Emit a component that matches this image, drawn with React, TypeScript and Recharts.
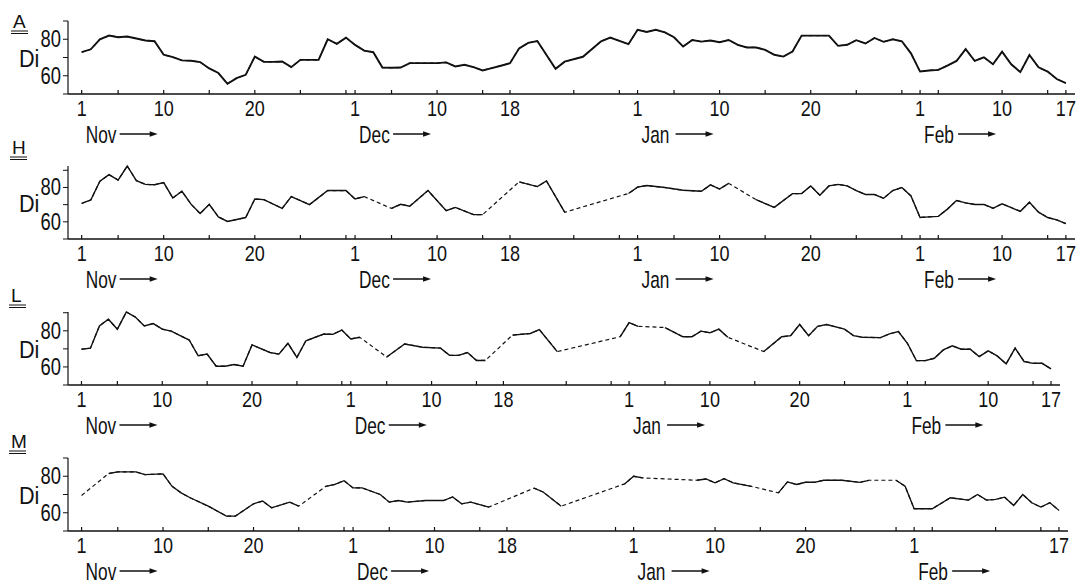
import React from 'react';
import { LineChart, Line, XAxis, YAxis } from 'recharts';

// x = days counted from 1 Nov (Feb 17 = 108), y = Di
const aDays = [0,1,2,3,4,5,6,7,8,9,10,11,12,13,14,15,16,17,18,19,20,21,22,23,24,25,26,27,28,29,30,31,32,33,34,35,36,37,38,39,40,41,42,43,44,45,46,47,48,49,50,52,53,55,57,58,60,61,62,63,64,65,66,67,68,69,70,71,72,73,74,75,76,77,78,79,80,81,82,83,84,85,86,87,88,89,90,91,92,93,94,95,96,97,98,99,100,101,102,103,104,105,106,107,108];
const aDi = [72.9,74.5,80,82,81.1,81.5,80.4,79.3,78.9,71.5,70.2,68.4,68.2,67.5,64,61.5,55.6,58.7,60.5,70.5,67.6,67.6,67.8,64.7,68.7,68.7,68.7,80,77.5,80.9,76.9,73.8,72.9,64.5,64.4,64.5,66.9,66.9,66.9,66.9,67.3,65.1,66,64.7,62.9,64.2,65.5,66.9,75,78,79,63.8,67.7,70.4,78.9,80.9,77.3,85.2,84,85.2,83.8,81.1,76,79.6,78.7,79.3,78.4,79.6,76.9,75.5,75.5,74.2,71.5,70.5,73.3,82,82,82,82,76.4,77,79.5,77.7,80.7,78.6,80,78.9,72.3,62.3,62.9,63.2,65.6,68.1,74.6,68.1,70.1,66.3,73.2,66.3,62,71.4,64.6,62.3,58.2,56];

const hDays = [0,1,2,3,4,5,6,7,8,9,10,11,12,13,14,15,16,18,19,20,22,23,24,25,27,29,30,31,34,35,36,38,40,41,43,44,48,50,51,53,60,61,62,64,66,68,69,70,71,74,76,78,79,80,81,82,83,84,85,86,87,88,89,90,91,92,93,94,95,96,97,98,99,100,101,102,103,104,105,106,107,108];
const hDi = [70.7,72.7,83.6,87.5,84.3,92.5,84,81.8,81.6,82.8,73.9,77.8,70.3,64.8,70.2,62.9,60.2,62.5,73.3,72.9,67.8,74.7,72.4,70,78.2,78.2,73.3,74.7,67.8,70.2,69.1,78.2,66.5,68.4,64.2,64.2,83.3,80.5,83.8,65.6,76.5,80.2,81.1,80,78.4,77.8,81.5,79.1,82.4,72.9,68.4,76.4,76.4,80.9,75.5,80.9,81.8,80.9,78.2,75.9,75.9,73.7,78.2,80,75.1,62.5,62.9,63.2,67.4,72.4,71,70.1,70.1,67.9,70.5,68.3,66.1,71.4,65.6,62.5,61.1,58.9];

const lDays = [0,1,2,3,4,5,6,7,8,9,10,11,12,13,14,15,16,17,18,19,21,22,23,24,25,27,28,29,30,31,34,36,38,40,41,42,43,44,45,48,50,51,53,60,61,62,65,67,68,69,70,71,72,76,78,79,80,81,82,83,85,86,87,89,90,91,92,93,94,95,96,97,98,99,100,101,102,103,104,105,106,107,108];
const lDi = [69.8,70.4,82.7,86.4,80.9,90.4,87.6,82.7,84,80.9,79.8,77.3,74.9,66.2,67.1,60.4,60.4,61.3,60.4,72.2,68,67.1,73.1,65.3,74.5,78.2,78,80.4,75.5,76.4,65.5,72.7,70.9,70.4,66.4,66.4,68,63.6,63.6,77.6,78.5,80.7,68.5,76.7,84.5,82.5,81.8,76.7,76.7,79.8,78.9,80.9,76.4,68.5,76.7,77.3,83.5,77.3,82.5,83.5,80.9,77.3,76.4,76.2,78.3,79.6,73.1,63.5,63.5,64.8,69.4,71.7,69.8,69.8,65.7,68.9,66.1,61.7,70.4,63,62,62,58.9];

const mDays = [0,3,4,6,7,9,10,11,12,14,16,17,19,20,21,23,24,27,28,29,30,31,33,34,35,36,38,40,41,42,43,45,50,51,53,60,61,62,68,69,70,71,72,74,77,78,79,80,81,82,84,86,87,90,91,92,94,96,98,99,100,101,102,103,104,105,106,107,108];
const mDi = [69.5,81.5,82.4,82.4,80.9,81.3,74.5,70.9,68.2,63.6,58.2,58.2,64.9,66.4,62.7,65.8,63.6,74.5,75.5,77.6,73.6,73.6,70,65.8,66.7,65.8,66.7,66.7,68.7,64.9,65.8,63.1,73.5,71.4,63.6,75.8,80,79.1,77.8,78.5,76.4,78.7,76.4,74.5,70.9,76.9,75.5,76.7,76.7,77.8,77.8,76.7,77.8,77.8,74.5,62.2,62.2,68.2,66.9,70,66.9,67.3,68.5,64,70,65.5,63.1,65.5,61.3];

const tickDays = [0,4,9,14,19,24,29,30,34,39,44,47,54,59,61,65,70,75,80,85,90,92,94,101,106,108];
const labelDays = [0,9,19,30,39,47,61,70,80,92,101,108];
const labelText = ['1','10','20','1','10','18','1','10','20','1','10','17'];
const monthDays = [0,30,61,92];
const monthNames = ['Nov','Dec','Jan','Feb'];
const yTicks = [50,60,70,80,90];
const yLabels = [60,80];

const INK = '#111';
const FONT = '"Liberation Sans", Arial, sans-serif';

const panels = [
  { name: 'A', days: aDays, di: aDi, top: 21, right: 14, width: 1.9, letterX: 13, letterY: 28, skip: [] as number[] },
  { name: 'H', days: hDays, di: hDi, top: 166, right: 14, width: 1.4, letterX: 12, letterY: 154, skip: [] as number[] },
  { name: 'L', days: lDays, di: lDi, top: 312, right: 29, width: 1.4, letterX: 11, letterY: 302, skip: [] as number[] },
  { name: 'M', days: mDays, di: mDi, top: 458, right: 21, width: 1.3, letterX: 11, letterY: 448, skip: [101] },
];

// solid only between close days, gaps of 3+ days are bridged by the dashed line underneath
const splitRuns = (days: number[], di: number[]) => {
  const all = days.map((d, i) => ({ day: d, di: di[i] }));
  const solid: { day: number; di: number | null }[] = [];
  all.forEach((p, i) => {
    if (i > 0 && p.day - all[i - 1].day >= 3) solid.push({ day: (p.day + all[i - 1].day) / 2, di: null });
    solid.push(p);
  });
  return { all, solid };
};

const XTick = (props: any) => {
  const { x, y, payload, skip } = props;
  const d = payload.value;
  const li = labelDays.indexOf(d);
  const mi = monthDays.indexOf(d);
  return (
    <g>
      <line x1={x} x2={x} y1={y} y2={y - 4} stroke={INK} strokeWidth={1.2} />
      {li >= 0 && !skip.includes(d) && (
        <text transform={`translate(${x},${y + 22}) scale(0.82,1)`} textAnchor="middle" fontSize={22} fontFamily={FONT} fill={INK}>
          {labelText[li]}
        </text>
      )}
      {mi >= 0 && (
        <g>
          <text transform={`translate(${x + 4},${y + 49}) scale(0.72,1)`} textAnchor="start" fontSize={24} fontFamily={FONT} fill={INK}>
            {monthNames[mi]}
          </text>
          <line x1={x + 38} x2={x + 70} y1={y + 40} y2={y + 40} stroke={INK} strokeWidth={1.3} />
          <path d={`M${x + 76},${y + 40} L${x + 68},${y + 37.3} L${x + 68},${y + 42.7} Z`} fill={INK} />
        </g>
      )}
    </g>
  );
};

const YTick = (props: any) => {
  const { x, y, payload } = props;
  if (!yLabels.includes(payload.value)) return <g />;
  return (
    <text transform={`translate(${x},${y + 8}) scale(0.8,1)`} textAnchor="end" fontSize={23} fontFamily={FONT} fill={INK}>
      {payload.value}
    </text>
  );
};

const Panel = ({ p }: { p: (typeof panels)[number] }) => {
  const { all, solid } = splitRuns(p.days, p.di);
  return (
    <div style={{ position: 'absolute', left: 0, top: p.top - 5 }}>
      <LineChart width={1089} height={138} margin={{ top: 5, right: p.right, bottom: 0, left: 0 }}>
        <XAxis
          type="number"
          dataKey="day"
          domain={[-1.5, 109]}
          ticks={tickDays}
          interval={0}
          allowDataOverflow
          height={60}
          tickSize={0}
          tickMargin={0}
          tickLine={false}
          axisLine={{ stroke: INK, strokeWidth: 1.6 }}
          tick={(t: any) => <XTick {...t} skip={p.skip} />}
        />
        <YAxis
          type="number"
          domain={[50, 90]}
          ticks={yTicks}
          interval={0}
          width={68}
          tickSize={5}
          tickMargin={2}
          axisLine={{ stroke: INK, strokeWidth: 1.2 }}
          tickLine={{ stroke: INK, strokeWidth: 1 }}
          tick={(t: any) => <YTick {...t} />}
        />
        <Line data={all} dataKey="di" type="linear" stroke={INK} strokeWidth={1.2} strokeDasharray="4 3" dot={false} isAnimationActive={false} />
        <Line data={solid} dataKey="di" type="linear" stroke={INK} strokeWidth={p.width} dot={false} connectNulls={false} isAnimationActive={false} />
      </LineChart>
    </div>
  );
};

export default function App() {
  return (
    <div style={{ position: 'absolute', left: 0, top: 0, width: 1089, height: 584, background: '#fff', overflow: 'hidden' }}>
      {panels.map((p) => (
        <Panel key={p.name} p={p} />
      ))}
      <svg width={1089} height={584} style={{ position: 'absolute', left: 0, top: 0, pointerEvents: 'none' }}>
        {panels.map((p) => (
          <g key={p.name}>
            <text x={p.letterX} y={p.letterY} fontSize={19} fontFamily={FONT} fill={INK}>{p.name}</text>
            <line x1={p.letterX - 2} x2={p.letterX + 15} y1={p.letterY + 3} y2={p.letterY + 3} stroke={INK} strokeWidth={1} />
            <line x1={p.letterX - 2} x2={p.letterX + 15} y1={p.letterY + 5.5} y2={p.letterY + 5.5} stroke={INK} strokeWidth={1} />
            <text transform={`translate(19,${p.top + 45.5}) scale(0.9,1)`} fontSize={24} fontFamily={FONT} fill={INK}>Di</text>
          </g>
        ))}
      </svg>
    </div>
  );
}
